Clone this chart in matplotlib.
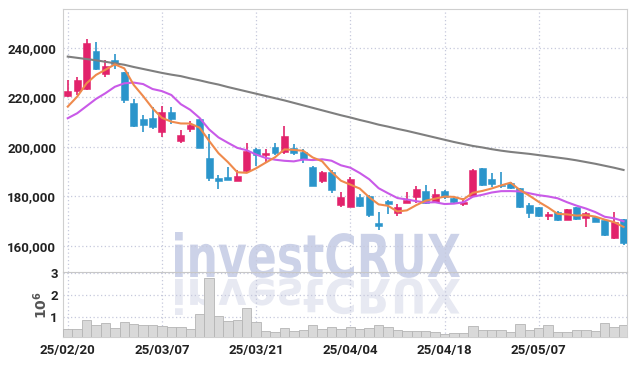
import matplotlib
matplotlib.use("Agg")
import matplotlib.pyplot as plt
import numpy as np
from matplotlib.textpath import TextPath
from matplotlib.patches import PathPatch
from matplotlib.font_manager import FontProperties
from matplotlib.transforms import Affine2D

plt.rcParams['font.family'] = ['Roboto', 'DejaVu Sans']
plt.rcParams['font.weight'] = 'bold'

# trading days shown (KRX, 2025)
dates = ["25/02/20", "25/02/21", "25/02/24", "25/02/25", "25/02/26", "25/02/27", "25/02/28",
         "25/03/04", "25/03/05", "25/03/06", "25/03/07", "25/03/10", "25/03/11", "25/03/12",
         "25/03/13", "25/03/14", "25/03/17", "25/03/18", "25/03/19", "25/03/20", "25/03/21",
         "25/03/24", "25/03/25", "25/03/26", "25/03/27", "25/03/28", "25/03/31", "25/04/01",
         "25/04/02", "25/04/03", "25/04/04", "25/04/07", "25/04/08", "25/04/09", "25/04/10",
         "25/04/11", "25/04/14", "25/04/15", "25/04/16", "25/04/17", "25/04/18", "25/04/21",
         "25/04/22", "25/04/23", "25/04/24", "25/04/25", "25/04/28", "25/04/29", "25/04/30",
         "25/05/02", "25/05/07", "25/05/08", "25/05/09", "25/05/12", "25/05/13", "25/05/14",
         "25/05/15", "25/05/16", "25/05/19", "25/05/20"]

opens = [220500, 222600, 223300, 238700, 229500, 235000, 230100, 217700, 211200, 211600,
         205800, 214000, 202400, 207300, 211200, 195300, 187400, 187800, 186300, 190300,
         199000, 196800, 199900, 198000, 199500, 197700, 191900, 186300, 189900, 176500,
         175800, 179800, 180200, 169200, 178100, 173100, 177400, 179600, 182100, 177800,
         182100, 179200, 176900, 180100, 191300, 186800, 184400, 185500, 183200, 176400,
         175500, 172100, 173700, 170400, 175500, 171300, 171700, 170400, 163000, 170700]
highs = [227000, 228000, 243400, 242300, 235000, 237300, 230300, 219200, 212700, 216000,
         216300, 215900, 206700, 210500, 211600, 205100, 188500, 191700, 190600, 201400,
         199300, 199000, 201400, 208400, 200900, 199000, 192100, 190200, 190600, 181600,
         187900, 180800, 180500, 173600, 178500, 176900, 181800, 184100, 184500, 182800,
         182400, 179800, 179200, 190800, 191500, 189500, 189800, 185800, 183400, 177100,
         175800, 173700, 174000, 175000, 175800, 173500, 172000, 170600, 173500, 170900]
lows = [220000, 221000, 223000, 231000, 228000, 231300, 217800, 208000, 205900, 207000,
        203800, 209100, 201600, 205800, 199500, 186100, 182800, 186600, 186000, 189300,
        192200, 193500, 196500, 196900, 196800, 193300, 184000, 185200, 181400, 175500,
        175600, 175800, 171500, 166400, 172800, 172000, 177100, 177100, 176800, 177300,
        178800, 176900, 176000, 179800, 184000, 183800, 183300, 183000, 175300, 171100,
        171600, 170400, 170000, 170200, 170500, 167400, 169500, 164000, 162800, 160300]
closes = [222500, 227000, 241800, 231500, 232600, 233400, 218900, 208400, 208900, 208000,
          214000, 211300, 204700, 208800, 199600, 187500, 186300, 186700, 188300, 198400,
          196700, 197600, 197600, 204300, 197300, 194900, 184200, 189900, 182500, 179800,
          187000, 176200, 172400, 168100, 176900, 175500, 178500, 183000, 177100, 180900,
          179800, 177800, 177800, 190600, 184600, 184800, 184000, 183300, 175800, 173300,
          172100, 172700, 170400, 174800, 170800, 173100, 169700, 164300, 169700, 161200]

# volume in millions of shares
volume = [0.475, 0.475, 0.88, 0.655, 0.73, 0.505, 0.775, 0.685, 0.64, 0.64,
          0.595, 0.55, 0.55, 0.46, 1.135, 2.8, 1.045, 0.82, 0.865, 1.405,
          0.775, 0.37, 0.325, 0.505, 0.37, 0.415, 0.64, 0.475, 0.55, 0.475,
          0.55, 0.475, 0.52, 0.64, 0.565, 0.445, 0.40, 0.40, 0.40, 0.355,
          0.235, 0.295, 0.295, 0.595, 0.445, 0.445, 0.445, 0.355, 0.685, 0.445,
          0.52, 0.64, 0.355, 0.355, 0.415, 0.445, 0.385, 0.745, 0.55, 0.64]

# moving average values before enough closes are on screen
ma5_head = [216200, 220200, 225600, 229000]
ma10_head = [211500, 213500, 216400, 219300, 221600, 224200, 225600, 225900, 225300]
# long moving average (its history is off screen)
ma_long = [236400, 235900, 235400, 234900, 234300, 233700, 233100, 232200, 231400, 230600,
           229800, 229100, 228500, 227600, 226800, 225900, 225100, 224100, 223200, 222300,
           221400, 220500, 219600, 218700, 217700, 216700, 215700, 214700, 213700, 212700,
           211800, 210800, 209900, 208900, 208100, 207200, 206400, 205500, 204600, 203700,
           202800, 201900, 201100, 200300, 199700, 199000, 198400, 197900, 197500, 197100,
           196600, 196100, 195600, 195100, 194500, 193800, 193100, 192300, 191500, 190600]

label_idx = [0, 10, 20, 30, 40, 50]

UP = '#e2226b'
DOWN = '#2b95cb'
GRID = '#c6c9dc'
SPINE = '#cfcfcf'
TXT = '#222222'

x = np.arange(len(dates))
o = np.array(opens); h = np.array(highs); l = np.array(lows); c = np.array(closes)


def rolling(vals, n, head):
    out = list(head)
    for i in range(len(head), len(vals)):
        out.append(np.mean(vals[i - n + 1:i + 1]))
    return out


ma5 = rolling(c, 5, ma5_head)
ma10 = rolling(c, 10, ma10_head)

fig = plt.figure(figsize=(6.37, 3.66), dpi=100)
fig.patch.set_facecolor('white')
ax = fig.add_axes([0.0994, 0.256, 0.8854, 0.7186])
axv = fig.add_axes([0.0994, 0.0779, 0.8854, 0.1781], sharex=ax)
for a in (ax, axv):
    a.set_facecolor('none')

# watermark with reflection (figure pixels -> inches)
fp = FontProperties(family='DejaVu Sans', weight='bold')
tp = TextPath((0, 0), "investCRUX", size=1, prop=fp)
ext = tp.get_extents()
sx = 285 / ext.width / 100
sy = 45 / ext.ymax / 100
bx = 175 / 100 - ext.x0 * sx
by = (366 - 277) / 100
wm = PathPatch(tp, transform=Affine2D().scale(sx, sy).translate(bx, by) + fig.dpi_scale_trans,
               facecolor='#ccd2e8', edgecolor='none', zorder=-5)
wr = PathPatch(tp, transform=Affine2D().scale(sx, -sy * 0.8).translate(bx, by - 0.02) + fig.dpi_scale_trans,
               facecolor='#e7e9f2', edgecolor='none', zorder=-5)
fig.add_artist(wm)
fig.add_artist(wr)

# candles
body_w = 0.74
for i in x:
    col = UP if c[i] >= o[i] else DOWN
    ax.vlines(i, l[i], h[i], color=col, lw=1.2, zorder=3)
    lo, hi = min(o[i], c[i]), max(o[i], c[i])
    ax.bar(i, max(hi - lo, 300), bottom=lo, width=body_w, color=col,
           edgecolor=col, linewidth=0.4, zorder=4)

ax.plot(x, ma_long, color='#7f7f7f', lw=1.5, zorder=5)
ax.plot(x, ma10, color='#c95ae8', lw=1.5, zorder=5)
ax.plot(x, ma5, color='#ef8a4c', lw=1.5, zorder=6)

ax.set_xlim(-0.47, 59.4)
ax.set_ylim(149260, 255500)
ax.set_yticks([160000, 180000, 200000, 220000, 240000])
ax.set_yticklabels([f"{v:,}" for v in [160000, 180000, 200000, 220000, 240000]])
ax.grid(True, color=GRID, linestyle=(0, (1, 2)), lw=0.9)
ax.set_axisbelow(True)
ax.tick_params(axis='both', length=0, labelsize=9.5, colors=TXT, pad=5)
ax.tick_params(axis='x', labelbottom=False)
for s in ['top', 'left', 'right']:
    ax.spines[s].set_color(SPINE)
ax.spines['bottom'].set_visible(False)

# volume
axv.bar(x, [v * 1e6 for v in volume], width=1.0, color='#d9d9d9', edgecolor='#b5b5b5',
        linewidth=0.6, zorder=3)
axv.set_ylim(0.09e6, 3.04e6)
axv.set_yticks([1e6, 2e6, 3e6])
axv.set_yticklabels(['1', '2', '3'])
axv.set_xticks(label_idx)
axv.set_xticklabels([dates[i] for i in label_idx])
axv.grid(True, color=GRID, linestyle=(0, (1, 2)), lw=0.9)
axv.set_axisbelow(True)
axv.tick_params(axis='both', length=0, labelsize=9.5, colors=TXT)
axv.tick_params(axis='y', pad=4)
axv.tick_params(axis='x', pad=5)
axv.set_ylabel(r'$10^6$', fontsize=10, color='#555555', labelpad=0, family='DejaVu Sans',
               fontweight='normal')
for s in ['top', 'left', 'right', 'bottom']:
    axv.spines[s].set_color(SPINE)
axv.spines['top'].set_color('#c8c8c8')
ax.set_xticks(label_idx)

fig.savefig("out.png", dpi=100, facecolor='white')
